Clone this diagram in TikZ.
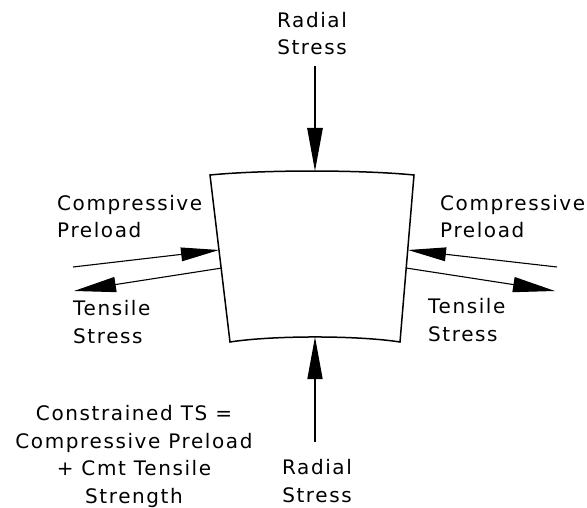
\documentclass[tikz,border=0pt]{standalone}
\usepackage{fontspec}
\setmainfont{DejaVu Sans}[LetterSpace=8.0]
\usetikzlibrary{arrows.meta}

\newcommand{\Load}[3]%
% start, end, tip length
{   \draw[load, -{Triangle[length=#3, width=.36*#3]}] (#1) -- (#2); }

\begin{document}
\begin{tikzpicture}
[   x=1pt, y=-1pt,
    load/.style={line width=1.1pt},
    label/.style={inner sep=0, font=\fontsize{20}{27.5}\selectfont},
    block/.style={line width=1.5pt, line join=miter}
]
    \useasboundingbox (0,0) rectangle (587,508);

    % the block
    \coordinate (TL) at (210,175);
    \coordinate (TR) at (414,175);
    \coordinate (BR) at (400,342);
    \coordinate (BL) at (230,342);
    \draw[block] (TL) .. controls (264,169.7) and (360,169.7) .. (TR)
        -- (BR) .. controls (357,335.3) and (273,335.3) .. (BL) -- cycle;

    % points where the loads act
    \coordinate (Top) at (315,171);
    \coordinate (Bot) at (315,337);
    \coordinate (LP) at (219,250);
    \coordinate (LT) at (222,268);
    \coordinate (RP) at (408,250);
    \coordinate (RT) at (406,268);

    % free ends
    \coordinate (TopEnd) at (315,66);
    \coordinate (BotEnd) at (315,442);
    \coordinate (LPEnd) at (73,267);
    \coordinate (LTEnd) at (74,291);
    \coordinate (RPEnd) at (557,267);
    \coordinate (RTEnd) at (555,291);

    \Load{TopEnd}{Top}{43pt}
    \Load{BotEnd}{Bot}{42pt}
    \Load{LPEnd}{LP}{38pt}
    \Load{LT}{LTEnd}{42pt}
    \Load{RPEnd}{RP}{38pt}
    \Load{RT}{RTEnd}{42pt}

    % labels (base = baseline of the last line)
    \node[label, anchor=base, align=center] (radtop) at (312,55) {Radial\\Stress};
    \node[label, anchor=base, align=center] (radbot) at (317,502) {Radial\\Stress};
    \node[label, anchor=base west, align=left] (precl) at (57,238) {Compressive\\Preload};
    \node[label, anchor=base west, align=left] (tensl) at (73,343) {Tensile\\Stress};
    \node[label, anchor=base west, align=left] (precr) at (440,238) {Compressive\\Preload};
    \node[label, anchor=base west, align=left] (tensr) at (428,341) {Tensile\\Stress};
    \node[label, anchor=base, align=center] (formula) at (134,503)
        {Constrained TS =\\Compressive Preload\\+ Cmt Tensile\\Strength};
\end{tikzpicture}
\end{document}
